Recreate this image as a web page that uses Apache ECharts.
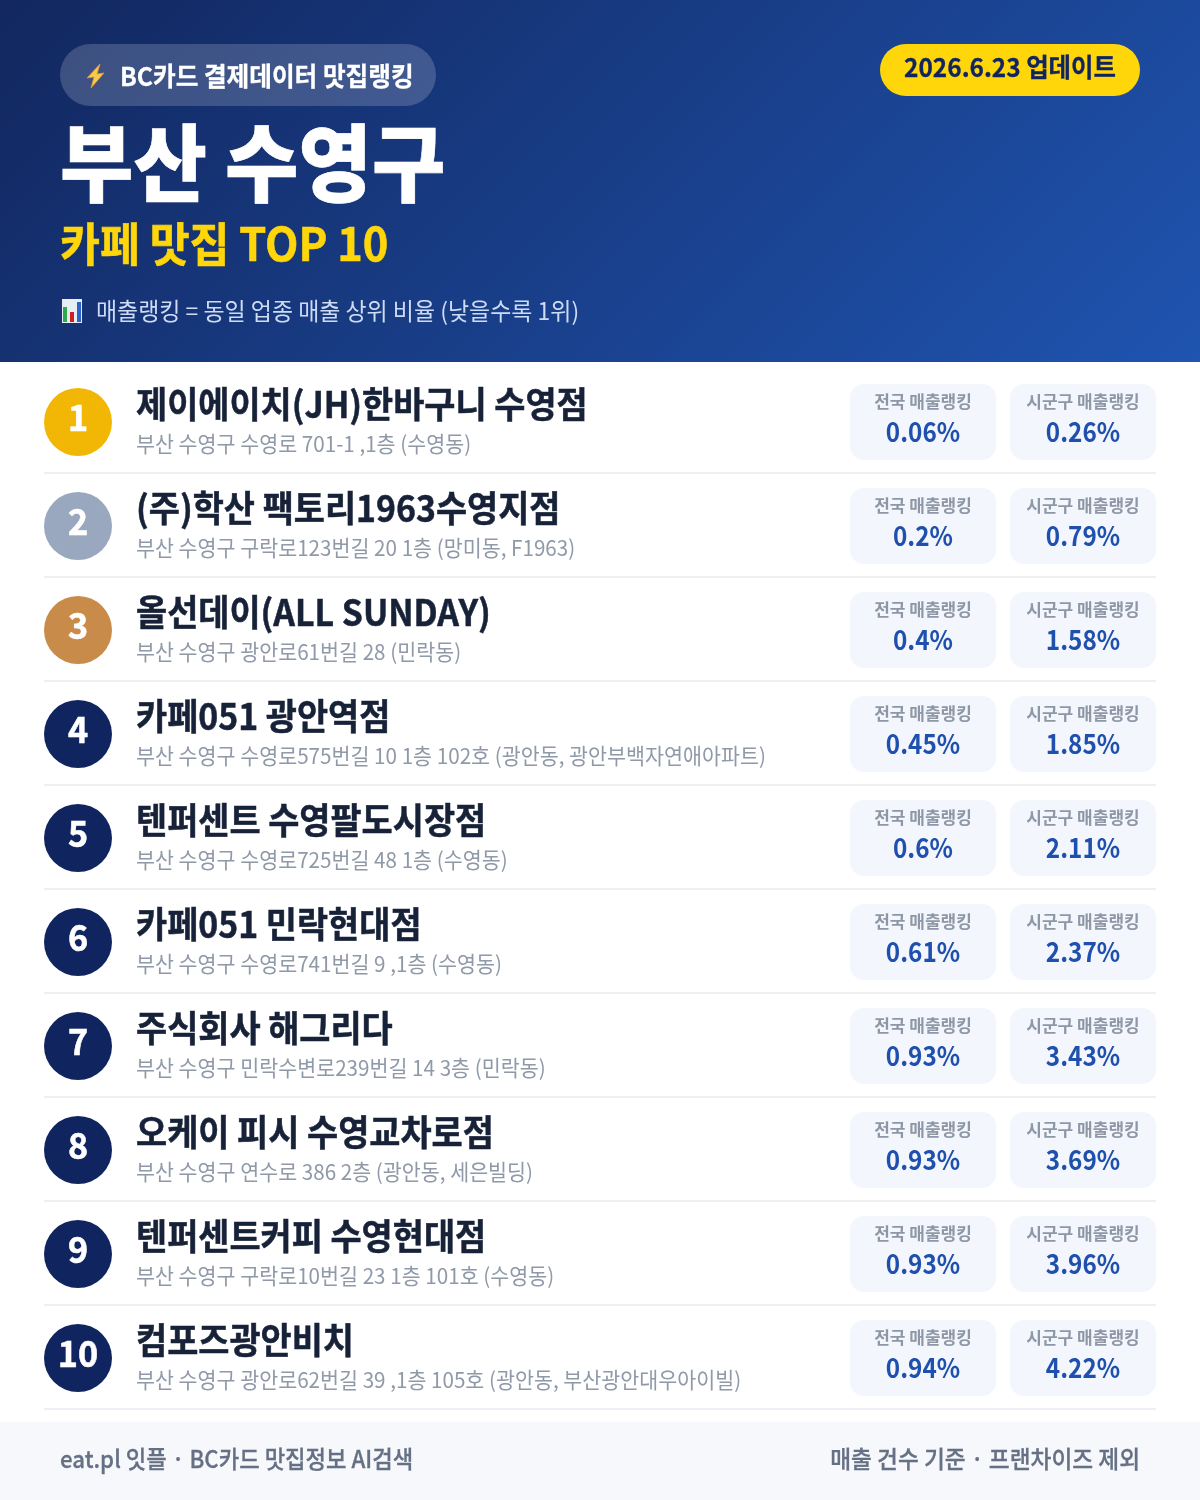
<!DOCTYPE html>
<html>
<head>
<meta charset="utf-8">
<style>
  html, body { margin: 0; padding: 0; background: #fff; }
  #main { width: 1200px; height: 1500px; }
</style>
<script src="https://cdn.jsdelivr.net/npm/echarts@6/dist/echarts.min.js"></script>
</head>
<body>
<div id="main"></div>
<script>
// 데이터
var names = ['제이에이치(JH)한바구니 수영점', '(주)학산 팩토리1963수영지점', '올선데이(ALL SUNDAY)', '카페051 광안역점', '텐퍼센트 수영팔도시장점', '카페051 민락현대점', '주식회사 해그리다', '오케이 피시 수영교차로점', '텐퍼센트커피 수영현대점', '컴포즈광안비치'];
var addresses = ['부산 수영구 수영로 701-1 ,1층 (수영동)', '부산 수영구 구락로123번길 20 1층 (망미동, F1963)', '부산 수영구 광안로61번길 28 (민락동)', '부산 수영구 수영로575번길 10 1층 102호 (광안동, 광안부백자연애아파트)', '부산 수영구 수영로725번길 48 1층 (수영동)', '부산 수영구 수영로741번길 9 ,1층 (수영동)', '부산 수영구 민락수변로239번길 14 3층 (민락동)', '부산 수영구 연수로 386 2층 (광안동, 세은빌딩)', '부산 수영구 구락로10번길 23 1층 101호 (수영동)', '부산 수영구 광안로62번길 39 ,1층 105호 (광안동, 부산광안대우아이빌)'];
var nationalRank = [0.06, 0.2, 0.4, 0.45, 0.6, 0.61, 0.93, 0.93, 0.93, 0.94];
var districtRank = [0.26, 0.79, 1.58, 1.85, 2.11, 2.37, 3.43, 3.69, 3.96, 4.22];
var nationalLabel = '전국 매출랭킹';
var districtLabel = '시군구 매출랭킹';

var FONT = '"Noto Sans CJK KR", "Noto Sans", sans-serif';
var medalColors = ['#f2b705', '#9aa8bf', '#c98b4a'];
var navy = '#10245f';

// sx: 가로 폭 보정 (원본 자간이 좁음), bold: 글자 두께 보정
function txt(x, y, text, size, weight, color, align, sx, bold) {
  return {
    type: 'text',
    x: x,
    y: y,
    scaleX: sx || 1,
    style: {
      text: text, fill: color,
      stroke: bold ? color : null,
      lineWidth: bold || 0,
      font: weight + ' ' + size + 'px ' + FONT,
      textAlign: align || 'left', textVerticalAlign: 'middle'
    }
  };
}

function card(x, cy, label, value) {
  return [{
    type: 'rect',
    shape: { x: x, y: cy - 38, width: 146, height: 76, r: 14 },
    style: { fill: '#f3f6fd' }
  },
    txt(x + 73, cy - 20, label, 17, 700, '#8e97a6', 'center'),
    txt(x + 73, cy + 10, value + '%', 27, 700, '#2050ad', 'center', 0.9)
  ];
}

function renderRow(params, api) {
  var i = api.value(0);
  var cy = api.coord([0, i])[1];
  var children = [{
    type: 'circle',
    shape: { cx: 78, cy: cy, r: 34 },
    style: { fill: i < 3 ? medalColors[i] : navy }
  },
    txt(78, cy - 5, String(i + 1), 36, 700, '#fff', 'center', 0.95, 0.6),
    txt(136, cy - 18, names[i], 36, 700, '#172238', 'left', 0.94, 0.5),
    txt(136, cy + 22, addresses[i], 21.5, 400, '#8f99a8', 'left', 0.96),
    {
      type: 'rect',
      shape: { x: 44, y: cy + 50, width: 1112, height: 2 },
      style: { fill: '#edeff2' }
    }
  ];
  children = children.concat(card(850, cy, nationalLabel, api.value(1)));
  children = children.concat(card(1010, cy, districtLabel, api.value(2)));
  return { type: 'group', children: children };
}

var chart = echarts.init(document.getElementById('main'));
chart.setOption({
  animation: false,
  backgroundColor: '#ffffff',
  grid: { left: 0, right: 0, top: 370, height: 1040 },
  xAxis: { type: 'value', min: 0, max: 1200, show: false },
  yAxis: { type: 'category', inverse: true, show: false, data: names },
  graphic: [
    // 헤더
    {
      type: 'rect', left: 0, top: 0, z: -1,
      shape: { width: 1200, height: 362 },
      style: {
        fill: new echarts.graphic.LinearGradient(210, -209, 990, 571, [
          { offset: 0, color: '#12275f' },
          { offset: 1, color: '#1f54b0' }
        ], true)
      }
    },
    {
      type: 'rect', left: 60, top: 44,
      shape: { width: 376, height: 62, r: 31 },
      style: { fill: 'rgba(255,255,255,0.18)' }
    },
    {
      type: 'polygon', z: 2,
      shape: { points: [[100, 64], [87, 78], [94, 77], [91, 88], [104, 73], [97, 74]] },
      style: { fill: '#f8cb4a', stroke: '#e8922a', lineWidth: 0.8 }
    },
    txt(120, 76, 'BC카드 결제데이터 맛집랭킹', 26, 700, '#fff', 'left', 0.948, 0.3),
    {
      type: 'rect', left: 880, top: 44,
      shape: { width: 260, height: 52, r: 26 },
      style: { fill: '#ffd60a' }
    },
    txt(1010, 67, '2026.6.23 업데이트', 26, 700, '#10245f', 'center', 0.938, 0.3),
    txt(60, 163, '부산 수영구', 84, 900, '#ffffff', 'left', 0.95, 0.6),
    txt(60, 244, '카페 맛집 TOP 10', 46, 700, '#ffd60a', 'left', 0.943, 0.6),
    // 막대 아이콘
    { type: 'rect', left: 62, top: 299, shape: { width: 20, height: 24 }, style: { fill: '#e6eef3' } },
    { type: 'rect', left: 63, top: 307, shape: { width: 4, height: 15 }, style: { fill: '#2fa84f' } },
    { type: 'rect', left: 70, top: 312, shape: { width: 4, height: 10 }, style: { fill: '#d11f1f' } },
    { type: 'rect', left: 77, top: 302, shape: { width: 4, height: 20 }, style: { fill: '#2a63c9' } },
    txt(96, 311, '매출랭킹 = 동일 업종 매출 상위 비율 (낮을수록 1위)', 24, 400, '#cddbf5', 'left', 0.956),
    // 푸터
    {
      type: 'rect', left: 0, top: 1422,
      shape: { width: 1200, height: 78 },
      style: { fill: '#f6f8fb' }
    },
    txt(60, 1459, 'eat.pl 잇플 · BC카드 맛집정보 AI검색', 24, 500, '#667085', 'left', 0.927, 0.3),
    txt(1140, 1459, '매출 건수 기준 · 프랜차이즈 제외', 24, 500, '#667085', 'right', 0.945, 0.3)
  ],
  series: [{
    type: 'custom',
    coordinateSystem: 'cartesian2d',
    renderItem: renderRow,
    encode: { x: 1, y: 0 },
    data: names.map(function(n, i) {
      return [i, nationalRank[i], districtRank[i]];
    })
  }]
});
</script>
</body>
</html>
